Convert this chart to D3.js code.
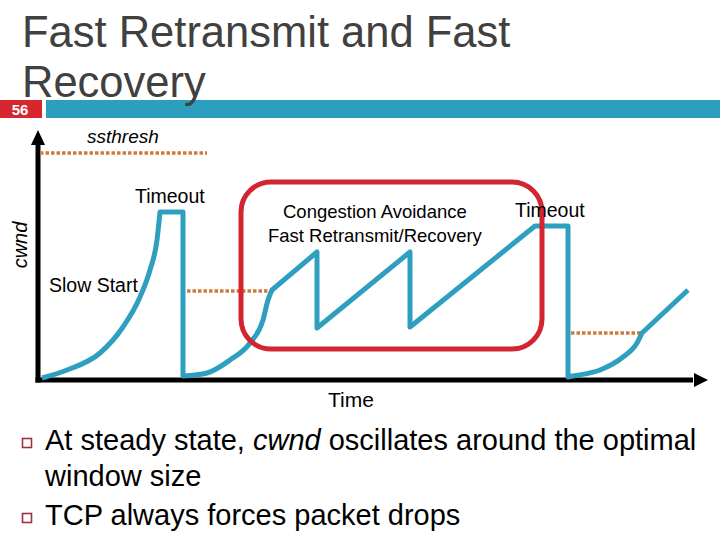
<!DOCTYPE html>
<html>
<head>
<meta charset="utf-8">
<script src="https://cdn.jsdelivr.net/npm/d3@7"></script>
<style>
  body { margin: 0; background: #fff; }
  text { font-family: "Liberation Sans", Arial, sans-serif; }
</style>
</head>
<body>
<div id="vis"></div>
<script>
var w = 720,
    h = 540;

// cwnd trace (time, cwnd), split where the curve shape changes
var slowStart1 = [[0.4,0.2],[2.9,1.0],[6.2,2.7],[8.5,5.3],[10.2,8.3],[11.2,11.0],[11.9,14.0],[12.2,16.8]];
var timeout1   = [[12.2,16.8],[14.5,16.8],[14.5,0.4]];
var slowStart2 = [[14.5,0.4],[16.9,0.7],[19.2,2.0],[21.2,3.7],[22.5,6.0],[23.0,8.0],[23.4,9.0]];
var sawtooth   = [[23.4,9.0],[27.9,12.8],[27.9,5.2],[37.2,12.8],[37.2,5.3],[49.7,15.4],[53.0,15.4],[53.0,0.3]];
var slowStart3 = [[53.0,0.3],[53.5,0.4],[56.2,1.0],[58.5,2.3],[59.9,3.7],[60.4,4.7]];
var avoidance3 = [[60.4,4.7],[65.0,9.0]];

// ssthresh levels
var thresholds = [
    [[0.2,22.7],[16.9,22.7]],
    [[14.9,8.9],[23.2,8.9]],
    [[53.3,4.7],[60.3,4.7]]
];

// highlighted region (time from/to, cwnd from/to)
var boxTime = [20.3, 50.4];
var boxCwnd = [3.1, 19.8];

var labels = ["ssthresh", "Timeout", "Congestion Avoidance", "Fast Retransmit/Recovery", "Timeout", "Slow Start"];
var labelTime = [4.9, 9.7, 24.5, 23.0, 47.7, 1.1];
var labelCwnd = [23.7, 17.7, 16.2, 13.8, 16.3, 8.8];

var bullets = [
    ["At steady state, ", "cwnd", " oscillates around the optimal"],
    ["window size"],
    ["TCP always forces packet drops"]
];

var blue = "#2e9fbf",
    red = "#d3252f",
    orange = "#cf7b3c";

var svg = d3.select("#vis").append("svg")
    .attr("width", w)
    .attr("height", h);

svg.append("rect").attr("width", w).attr("height", h).attr("fill", "#fff");

// header
svg.append("rect").attr("x", 0).attr("y", 100).attr("width", 42).attr("height", 18).attr("fill", "#d8262f");
svg.append("rect").attr("x", 46).attr("y", 100).attr("width", w - 46).attr("height", 18).attr("fill", "#2c9ebf");
svg.append("text").attr("x", 20).attr("y", 115).attr("text-anchor", "middle")
    .attr("fill", "#fff").style("font-weight", "bold").style("font-size", "15px").text("56");

var title = svg.append("text").attr("fill", "#404040").style("font-size", "43.5px");
title.append("tspan").attr("x", 22).attr("y", 47).text("Fast Retransmit and Fast");
title.append("tspan").attr("x", 22).attr("y", 97).text("Recovery");

var x = d3.scaleLinear().domain([0, 67]).range([38, 708]),
    y = d3.scaleLinear().domain([0, 25]).range([380, 130]);

// axes with arrow heads
var axis = svg.append("g");
axis.append("line")
    .attr("x1", x(0)).attr("y1", y(0) + 2.5)
    .attr("x2", x(0)).attr("y2", y(23.5))
    .attr("stroke", "#000").attr("stroke-width", 5);
axis.append("line")
    .attr("x1", x(0) - 2.5).attr("y1", y(0))
    .attr("x2", x(65.5)).attr("y2", y(0))
    .attr("stroke", "#000").attr("stroke-width", 5);
axis.append("path")
    .attr("d", "M" + x(0) + "," + y(25) + "L" + (x(0) - 7) + "," + (y(25) + 15) + "L" + (x(0) + 7) + "," + (y(25) + 15) + "Z")
    .attr("fill", "#000");
axis.append("path")
    .attr("d", "M" + x(67) + "," + y(0) + "L" + (x(67) - 14) + "," + (y(0) - 7) + "L" + (x(67) - 14) + "," + (y(0) + 7) + "Z")
    .attr("fill", "#000");

// dotted ssthresh lines
var line = d3.line().x(function(d){ return x(d[0]); }).y(function(d){ return y(d[1]); });
svg.selectAll("path.thresh")
    .data(thresholds)
    .enter().append("path")
    .attr("class", "thresh")
    .attr("d", line)
    .attr("fill", "none")
    .attr("stroke", orange)
    .attr("stroke-width", 3.5)
    .attr("stroke-dasharray", "3.5,2");

// cwnd trace
var smooth = d3.line().x(function(d){ return x(d[0]); }).y(function(d){ return y(d[1]); }).curve(d3.curveMonotoneX);
var parts = [
    [slowStart1, smooth], [timeout1, line], [slowStart2, smooth],
    [sawtooth, line], [slowStart3, smooth], [avoidance3, line]
];
var trace = parts.map(function(p, i){
    var s = p[1](p[0]);
    return i > 0 ? s.replace(/^M/, "L") : s;
}).join("");
svg.append("path")
    .attr("d", trace)
    .attr("fill", "none")
    .attr("stroke", blue)
    .attr("stroke-width", 5)
    .attr("stroke-linejoin", "round");

// rounded box
svg.append("rect")
    .attr("x", x(boxTime[0]))
    .attr("y", y(boxCwnd[1]))
    .attr("width", x(boxTime[1]) - x(boxTime[0]))
    .attr("height", y(boxCwnd[0]) - y(boxCwnd[1]))
    .attr("rx", 30).attr("ry", 30)
    .attr("fill", "none")
    .attr("stroke", red)
    .attr("stroke-width", 5);

// annotations
svg.selectAll("text.label")
    .data(labels)
    .enter().append("text")
    .attr("class", "label")
    .attr("x", function(d, i){ return x(labelTime[i]); })
    .attr("y", function(d, i){ return y(labelCwnd[i]); })
    .style("font-size", function(d, i){ return i == 0 ? "19px" : (i == 2 || i == 3) ? "18.5px" : "19.5px"; })
    .style("font-style", function(d, i){ return i == 0 ? "italic" : "normal"; })
    .attr("fill", "#000")
    .text(function(d){ return d; });

svg.append("text")
    .attr("transform", "translate(27," + 245 + ") rotate(-90)")
    .attr("text-anchor", "middle")
    .style("font-size", "20px").style("font-style", "italic")
    .text("cwnd");

svg.append("text")
    .attr("x", 351).attr("y", 407)
    .attr("text-anchor", "middle")
    .style("font-size", "21px")
    .text("Time");

// bullets
var bulletY = [450, 486, 525];
bullets.forEach(function(b, i){
    if (i != 1) {
        svg.append("rect")
            .attr("x", 22.5).attr("y", bulletY[i] - 11.5)
            .attr("width", 9).attr("height", 9)
            .attr("fill", "#fff")
            .attr("stroke", "#a0303f").attr("stroke-width", 1.6);
    }
    var t = svg.append("text").attr("x", 45).attr("y", bulletY[i]).style("font-size", "29px");
    b.forEach(function(s, j){
        t.append("tspan").style("font-style", s == "cwnd" ? "italic" : "normal").text(s);
    });
});
</script>
</body>
</html>
